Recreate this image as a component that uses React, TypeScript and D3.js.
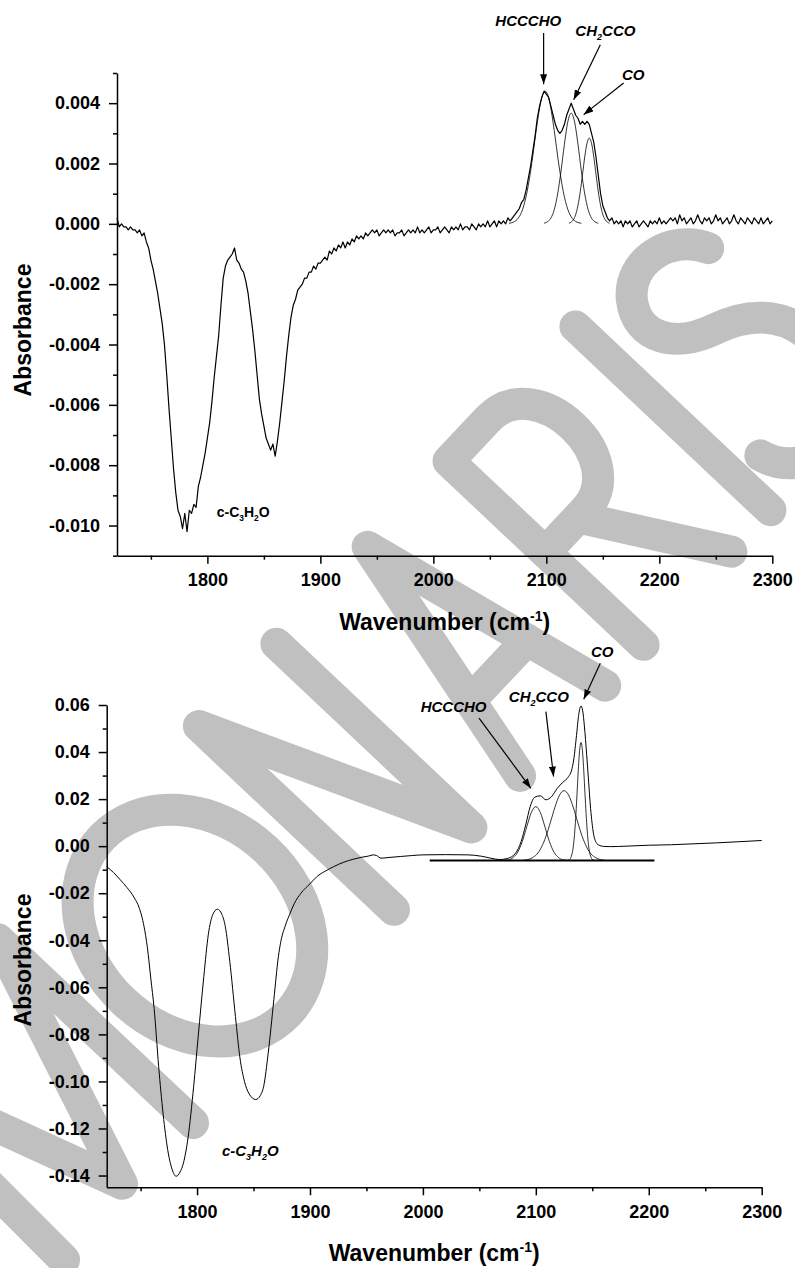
import React, { useEffect, useRef } from 'react';
import * as d3 from 'd3';

const FONT = "'Liberation Sans', Arial, Helvetica, sans-serif";

type Pt = [number, number];
type Part = { t: string; sub?: boolean };
interface Label { parts: Part[]; wn: number; abs: number; italic: boolean; size?: number; anchor?: string }

// shared wavenumber ticks (cm-1)
const xMajorTicks = [1800, 1900, 2000, 2100, 2200, 2300];
const xMinorTicks = [1750, 1850, 1950, 2050, 2150, 2250];

// ---- top panel ----
const topYTicks = [-0.010, -0.008, -0.006, -0.004, -0.002, 0.0, 0.002, 0.004];
const topYMinor = [-0.011, -0.009, -0.007, -0.005, -0.003, -0.001, 0.001, 0.003, 0.005];

// measured spectrum on a 2 cm-1 grid from 1720 to 2300
const topWnStart = 1720;
const topWnStep = 2;
const topAbs = [
  0.0002, -0.0001, 0.0000, -0.0001, -0.0001, -0.0002, -0.0001, -0.0002, -0.0002, -0.0003,
  -0.0002, -0.0004, -0.0003, -0.0006, -0.0008, -0.0012, -0.0015, -0.0019, -0.0023, -0.0028,
  -0.0033, -0.0040, -0.0050, -0.0061, -0.0071, -0.0081, -0.0089, -0.0095, -0.0097, -0.0101,
  -0.0096, -0.0102, -0.0095, -0.0096, -0.0093, -0.0094, -0.0087, -0.0084, -0.0080, -0.0076,
  -0.0071, -0.0066, -0.0059, -0.0051, -0.0044, -0.0037, -0.0027, -0.0018, -0.0014, -0.0012,
  -0.0011, -0.0010, -0.0008, -0.0012, -0.0013, -0.0015, -0.0016, -0.0019, -0.0023, -0.0029,
  -0.0035, -0.0042, -0.0050, -0.0058, -0.0063, -0.0067, -0.0071, -0.0073, -0.0075, -0.0073,
  -0.0077, -0.0072, -0.0066, -0.0059, -0.0052, -0.0044, -0.0037, -0.0031, -0.0027, -0.0025,
  -0.0022, -0.0021, -0.0020, -0.0018, -0.0018, -0.0016, -0.0016, -0.0014, -0.0015, -0.0013,
  -0.0013, -0.0012, -0.0011, -0.0012, -0.0009, -0.0010, -0.0008, -0.0009, -0.0007, -0.0008,
  -0.0006, -0.0008, -0.0006, -0.0007, -0.0005, -0.0006, -0.0004, -0.0005, -0.0004, -0.0005,
  -0.0003, -0.0004, -0.0003, -0.0002, -0.0003, -0.0002, -0.0004, -0.0003, -0.0002, -0.0003,
  -0.0002, -0.0003, -0.0002, -0.0004, -0.0003, -0.0003, -0.0002, -0.0004, -0.0003, -0.0002,
  -0.0003, -0.0002, -0.0003, -0.0001, -0.0003, -0.0002, -0.0003, -0.0002, -0.0001, -0.0003,
  -0.0002, -0.0002, -0.0001, -0.0003, -0.0002, -0.0001, -0.0002, -0.0003, -0.0001, -0.0002,
  -0.0001, -0.0002, 0.0000, -0.0002, -0.0001, -0.0001, -0.0002, 0.0000, -0.0001, -0.0002,
  0.0000, -0.0001, 0.0000, -0.0001, 0.0001, -0.0001, 0.0000, 0.0001, -0.0001, 0.0001,
  0.0000, 0.0001, 0.0000, 0.0002, 0.0001, 0.0002, 0.0003, 0.0004, 0.0005, 0.0007,
  0.0008, 0.0011, 0.0015, 0.0019, 0.0024, 0.0029, 0.0035, 0.0039, 0.0042, 0.0044,
  0.0043, 0.0042, 0.0039, 0.0036, 0.0033, 0.0031, 0.0030, 0.0031, 0.0033, 0.0036,
  0.0038, 0.0040, 0.0038, 0.0036, 0.0035, 0.0033, 0.0034, 0.0033, 0.0034, 0.0033,
  0.0030, 0.0027, 0.0022, 0.0016, 0.0010, 0.0006, 0.0004, 0.0002, 0.0001, 0.0002,
  0.0000, 0.0001, 0.0000, 0.0001, -0.0001, 0.0001, 0.0000, 0.0001, -0.0001, 0.0000,
  0.0001, -0.0001, 0.0000, 0.0001, 0.0000, -0.0001, 0.0001, 0.0000, 0.0001, 0.0000,
  0.0002, 0.0000, 0.0001, 0.0000, 0.0001, 0.0002, 0.0001, 0.0002, 0.0000, 0.0003,
  0.0001, 0.0002, 0.0000, 0.0001, 0.0002, 0.0000, 0.0001, 0.0003, 0.0001, 0.0000,
  0.0002, 0.0001, 0.0002, 0.0000, 0.0001, 0.0003, 0.0001, 0.0002, 0.0000, 0.0001,
  0.0002, 0.0000, 0.0001, 0.0003, 0.0001, 0.0000, 0.0002, 0.0001, 0.0000, 0.0002,
  0.0001, 0.0000, 0.0002, 0.0001, 0.0000, 0.0002, 0.0000, 0.0001, 0.0002, 0.0000,
  0.0001,
];

// fitted components (top)
const topFitHCCCHO: Pt[] = [
  [2067, 0.00002], [2071, 0.00006], [2075, 0.00018], [2079, 0.00048], [2083, 0.00107],
  [2087, 0.00198], [2091, 0.00309], [2095, 0.00403], [2099, 0.0044], [2103, 0.00403],
  [2107, 0.00309], [2111, 0.00198], [2115, 0.00107], [2119, 0.00048], [2123, 0.00018],
  [2127, 0.00006], [2131, 0.00002],
];
const topFitCH2CCO: Pt[] = [
  [2098, 0.00002], [2101, 0.00007], [2104, 0.00019], [2107, 0.00047], [2110, 0.00099],
  [2113, 0.00175], [2116, 0.00264], [2119, 0.00338], [2122, 0.00367], [2125, 0.00338],
  [2128, 0.00264], [2131, 0.00175], [2134, 0.00099], [2137, 0.00047], [2140, 0.00019],
  [2143, 0.00007], [2146, 0.00002],
];
const topFitCO: Pt[] = [
  [2120, 0.00002], [2122, 0.00006], [2124, 0.00014], [2126, 0.00031], [2128, 0.00061],
  [2130, 0.00106], [2132, 0.00163], [2134, 0.00222], [2136, 0.00267], [2138, 0.00284],
  [2140, 0.00267], [2142, 0.00222], [2144, 0.00163], [2146, 0.00106], [2148, 0.00061],
  [2150, 0.00031], [2152, 0.00014], [2154, 0.00006], [2156, 0.00002],
];

const topLabels: Label[] = [
  { parts: [{ t: 'HCCCHO' }], wn: 2084, abs: 0.00657, italic: true, anchor: 'middle' },
  { parts: [{ t: 'CH' }, { t: '2', sub: true }, { t: 'CCO' }], wn: 2125.7, abs: 0.00621, italic: true },
  { parts: [{ t: 'CO' }], wn: 2167, abs: 0.00478, italic: true },
  { parts: [{ t: 'c-C' }, { t: '3', sub: true }, { t: 'H' }, { t: '2', sub: true }, { t: 'O' }], wn: 1808.3, abs: -0.00972, italic: false, size: 14 },
];
const topArrows: [Pt, Pt][] = [
  [[2097.6, 0.00633], [2097.6, 0.00463]],
  [[2147.8, 0.00594], [2124.2, 0.00411]],
  [[2168.4, 0.00467], [2133.0, 0.00362]],
];

// ---- bottom panel ----
const bottomYTicks = [-0.14, -0.12, -0.10, -0.08, -0.06, -0.04, -0.02, 0.0, 0.02, 0.04, 0.06];
const bottomYMinor = [-0.13, -0.11, -0.09, -0.07, -0.05, -0.03, -0.01, 0.01, 0.03, 0.05];

const bottomSpectrum: Pt[] = [
  [1720, -0.0087], [1726, -0.0112], [1732, -0.0143], [1738, -0.0176], [1744, -0.0216],
  [1749, -0.0265], [1753, -0.034], [1756, -0.043], [1759, -0.056], [1762, -0.069],
  [1766, -0.0936], [1770, -0.114], [1774, -0.129], [1778, -0.1375], [1781.5, -0.1403],
  [1785, -0.1385], [1788, -0.1346], [1792, -0.124], [1797, -0.1021], [1801, -0.081],
  [1806, -0.0554], [1810, -0.0375], [1814, -0.029], [1818, -0.0268], [1822, -0.029],
  [1825, -0.0341], [1829, -0.049], [1834, -0.0724], [1838, -0.09], [1842, -0.1],
  [1846, -0.1052], [1852, -0.1077], [1856, -0.106], [1859, -0.1021], [1863, -0.088],
  [1868, -0.0653], [1872, -0.047], [1874, -0.041], [1878, -0.034], [1882, -0.029],
  [1886, -0.0245], [1892, -0.02], [1900, -0.016], [1906, -0.013], [1914, -0.0105],
  [1921, -0.0087], [1930, -0.0068], [1938, -0.0056], [1946, -0.0047], [1952, -0.0042],
  [1956, -0.0037], [1959, -0.004], [1963, -0.0051], [1970, -0.0048], [1980, -0.0044],
  [1990, -0.004], [2000, -0.0037], [2020, -0.0036], [2040, -0.0037], [2052, -0.0043],
  [2060, -0.0051], [2068, -0.0057], [2075, -0.0052], [2082, -0.003], [2087, 0.002],
  [2091, 0.009], [2095, 0.0168], [2099, 0.0208], [2104, 0.0214], [2109, 0.0197],
  [2114, 0.0211], [2119, 0.0246], [2124, 0.0272], [2129, 0.0296], [2131.5, 0.032],
  [2133.5, 0.0366], [2136, 0.047], [2138, 0.056], [2140, 0.0596], [2141.5, 0.0575],
  [2143, 0.051], [2145, 0.039], [2146.5, 0.029], [2148.5, 0.016], [2151, 0.0055],
  [2153.5, 0.0015], [2156, 0.0004], [2160, -0.0001], [2166, -0.0002], [2180, 0.0],
  [2200, 0.0004], [2220, 0.0006], [2240, 0.001], [2260, 0.0014], [2280, 0.0019],
  [2300, 0.0024],
];

// fit baseline and fitted components (bottom)
const bottomFitBaseline: Pt[] = [[2006, -0.0061], [2205, -0.0061]];
const bottomFitHCCCHO: Pt[] = [
  [2072, -0.006], [2076, -0.0058], [2080, -0.0048], [2084, -0.0025], [2088, 0.002],
  [2092, 0.0083], [2096, 0.0143], [2100, 0.0168], [2104, 0.0143], [2108, 0.0083],
  [2112, 0.002], [2116, -0.0025], [2120, -0.0048], [2124, -0.0058], [2128, -0.006],
];
const bottomFitCH2CCO: Pt[] = [
  [2089, -0.006], [2093, -0.0057], [2097, -0.0049], [2101, -0.0034], [2105, -0.0004],
  [2109, 0.0042], [2113, 0.0103], [2117, 0.0167], [2121, 0.0217], [2125, 0.0236],
  [2129, 0.0217], [2133, 0.0167], [2137, 0.0103], [2141, 0.0042], [2145, -0.0004],
  [2149, -0.0034], [2153, -0.0049], [2157, -0.0057], [2161, -0.006],
];
const bottomFitCO: Pt[] = [
  [2128, -0.006], [2129, -0.0059], [2130, -0.0056], [2131, -0.0049], [2132, -0.0034],
  [2133, -0.0008], [2134, 0.0035], [2135, 0.0099], [2136, 0.018], [2137, 0.0271],
  [2138, 0.0357], [2139, 0.0418], [2140, 0.0441], [2141, 0.0418], [2142, 0.0357],
  [2143, 0.0271], [2144, 0.018], [2145, 0.0099], [2146, 0.0035], [2147, -0.0008],
  [2148, -0.0034], [2149, -0.0049], [2150, -0.0056], [2151, -0.0059], [2152, -0.006],
];

const bottomLabels: Label[] = [
  { parts: [{ t: 'CO' }], wn: 2148.8, abs: 0.0804, italic: true },
  { parts: [{ t: 'CH' }, { t: '2', sub: true }, { t: 'CCO' }], wn: 2076.1, abs: 0.0613, italic: true },
  { parts: [{ t: 'HCCCHO' }], wn: 1998, abs: 0.0572, italic: true },
  { parts: [{ t: 'c-C' }, { t: '3', sub: true }, { t: 'H' }, { t: '2', sub: true }, { t: 'O' }], wn: 1822, abs: -0.1319, italic: true },
];
const bottomArrows: [Pt, Pt][] = [
  [[2157.1, 0.0777], [2142.4, 0.0624]],
  [[2108.9, 0.0572], [2115.7, 0.0296]],
  [[2049.7, 0.0544], [2095.6, 0.0246]],
];

// watermark strokes in a local frame (x along the baseline, y up = negative)
const watermarkPaths = [
  'M -188 0 L -180 -268 L -93 -10 L 0 -268 L 0 0',
  'M 293 0 L 293 -268 L 406 0 L 406 -268',
  'M 477 0 L 539 -268 L 601 0 M 497 -88 L 581 -88',
  'M 657 0 L 657 -268 L 715 -268 C 785 -268 785 -135 715 -135 L 657 -135 M 705 -135 L 785 0',
  'M 842 0 L 842 -268',
  'M 990 -225 C 975 -262 925 -275 900 -245 C 875 -215 895 -180 935 -165 C 975 -150 1000 -120 995 -75 C 990 -20 945 -5 920 -5 C 895 -5 880 -25 875 -45',
];

interface Panel {
  xRange: Pt;
  yRange: Pt;
  yDomain: Pt;
  yTicks: number[];
  yMinor: number[];
  decimals: number;
  spectrum: Pt[];
  spectrumWidth: number;
  smooth: boolean;
  fits: Pt[][];
  baselines: Pt[][];
  labels: Label[];
  arrows: [Pt, Pt][];
  yTitle: Pt;
  xTitleY: number;
}

const topPanel: Panel = {
  xRange: [117, 772.3],
  yRange: [555.7, 73],
  yDomain: [-0.011, 0.005],
  yTicks: topYTicks,
  yMinor: topYMinor,
  decimals: 3,
  spectrum: topAbs.map((a, i) => [topWnStart + i * topWnStep, a] as Pt),
  spectrumWidth: 1.2,
  smooth: false,
  fits: [topFitHCCCHO, topFitCH2CCO, topFitCO],
  baselines: [],
  labels: topLabels,
  arrows: topArrows,
  yTitle: [31, 330],
  xTitleY: 630,
};

const bottomPanel: Panel = {
  xRange: [106.7, 761.7],
  yRange: [1187.3, 705],
  yDomain: [-0.145, 0.06],
  yTicks: bottomYTicks,
  yMinor: bottomYMinor,
  decimals: 2,
  spectrum: bottomSpectrum,
  spectrumWidth: 1,
  smooth: true,
  fits: [bottomFitHCCCHO, bottomFitCH2CCO, bottomFitCO],
  baselines: [bottomFitBaseline],
  labels: bottomLabels,
  arrows: bottomArrows,
  yTitle: [31, 960],
  xTitleY: 1261,
};

function styleAxis(sel: any) {
  sel.attr('font-family', FONT).attr('font-size', 18).attr('font-weight', 'bold');
  sel.selectAll('path, line').attr('stroke', '#000').attr('stroke-width', 1.5);
  sel.selectAll('text').attr('fill', '#000');
}

function drawPanel(svg: any, p: Panel) {
  const x = d3.scaleLinear().domain([1720, 2300]).range(p.xRange);
  const y = d3.scaleLinear().domain(p.yDomain).range(p.yRange);
  const g = svg.append('g');

  const fmt = (v: number) => (Math.abs(v) < 1e-9 ? 0 : v).toFixed(p.decimals);

  // axes
  const xAxis = d3.axisBottom(x).tickValues(xMajorTicks).tickSize(8).tickPadding(10)
    .tickSizeOuter(0).tickFormat((d: any) => String(d));
  g.append('g').attr('transform', `translate(0,${p.yRange[0]})`).call(xAxis).call(styleAxis);

  const xMinor = d3.axisBottom(x).tickValues(xMinorTicks).tickSize(4).tickSizeOuter(0).tickFormat(() => '');
  g.append('g').attr('transform', `translate(0,${p.yRange[0]})`).call(xMinor).call(styleAxis)
    .select('.domain').remove();

  const yAxis = d3.axisLeft(y).tickValues(p.yTicks).tickSize(8).tickPadding(9)
    .tickSizeOuter(0).tickFormat((d: any) => fmt(d));
  g.append('g').attr('transform', `translate(${p.xRange[0]},0)`).call(yAxis).call(styleAxis);

  const yMinor = d3.axisLeft(y).tickValues(p.yMinor).tickSize(4).tickSizeOuter(0).tickFormat(() => '');
  g.append('g').attr('transform', `translate(${p.xRange[0]},0)`).call(yMinor).call(styleAxis)
    .select('.domain').remove();

  // curves
  const line = d3.line<Pt>().x(d => x(d[0])).y(d => y(d[1]));
  const smoothLine = d3.line<Pt>().x(d => x(d[0])).y(d => y(d[1])).curve(d3.curveMonotoneX);

  p.baselines.forEach(b => {
    g.append('path').attr('d', line(b)).attr('fill', 'none').attr('stroke', '#000').attr('stroke-width', 2);
  });
  p.fits.forEach(f => {
    g.append('path').attr('d', smoothLine(f)).attr('fill', 'none')
      .attr('stroke', '#000').attr('stroke-width', 0.8);
  });
  g.append('path')
    .attr('d', (p.smooth ? smoothLine : line)(p.spectrum))
    .attr('fill', 'none')
    .attr('stroke', '#000')
    .attr('stroke-width', p.spectrumWidth)
    .attr('stroke-linejoin', 'round');

  // annotations
  p.arrows.forEach(([a, b]) => {
    g.append('line')
      .attr('x1', x(a[0])).attr('y1', y(a[1]))
      .attr('x2', x(b[0])).attr('y2', y(b[1]))
      .attr('stroke', '#000').attr('stroke-width', 1.2)
      .attr('marker-end', 'url(#arrowhead)');
  });

  p.labels.forEach(l => {
    const size = l.size || 15;
    const t = g.append('text')
      .attr('x', x(l.wn)).attr('y', y(l.abs))
      .attr('font-family', FONT).attr('font-weight', 'bold')
      .attr('font-style', l.italic ? 'italic' : 'normal')
      .attr('font-size', size)
      .attr('text-anchor', l.anchor || 'start');
    let shifted = false;
    l.parts.forEach(part => {
      const ts = t.append('tspan').text(part.t);
      if (part.sub) {
        ts.attr('font-size', size * 0.6).attr('dy', 4);
        shifted = true;
      } else if (shifted) {
        ts.attr('dy', -4);
        shifted = false;
      }
    });
  });

  // axis titles
  const xt = svg.append('text')
    .attr('x', (p.xRange[0] + p.xRange[1]) / 2).attr('y', p.xTitleY)
    .attr('text-anchor', 'middle')
    .attr('font-family', FONT).attr('font-weight', 'bold').attr('font-size', 23);
  xt.append('tspan').text('Wavenumber (cm');
  xt.append('tspan').text('-1').attr('font-size', 14).attr('dy', -9);
  xt.append('tspan').text(')').attr('dy', 9);

  svg.append('text')
    .attr('transform', `translate(${p.yTitle[0]},${p.yTitle[1]}) rotate(-90)`)
    .attr('text-anchor', 'middle')
    .attr('font-family', FONT).attr('font-weight', 'bold').attr('font-size', 23)
    .text('Absorbance');
}

function drawWatermark(svg: any) {
  const wm = svg.append('g')
    .attr('transform', 'translate(193,1123) rotate(-46.7)')
    .attr('fill', 'none')
    .attr('stroke', '#c0c0c0')
    .attr('stroke-width', 32)
    .attr('stroke-linecap', 'round')
    .attr('stroke-linejoin', 'round');
  wm.append('ellipse').attr('cx', 145).attr('cy', -134).attr('rx', 104).attr('ry', 128);
  watermarkPaths.forEach(d => wm.append('path').attr('d', d));
}

export default function App() {
  const svgRef = useRef<SVGSVGElement>(null);

  useEffect(() => {
    if (!svgRef.current) return;
    const svg = d3.select(svgRef.current);
    svg.selectAll('*').remove();

    svg.append('defs').append('marker')
      .attr('id', 'arrowhead')
      .attr('markerUnits', 'userSpaceOnUse')
      .attr('markerWidth', 10).attr('markerHeight', 7)
      .attr('refX', 10).attr('refY', 3.5)
      .attr('orient', 'auto')
      .append('path').attr('d', 'M0,0 L10,3.5 L0,7 Z').attr('fill', '#000');

    drawWatermark(svg);
    drawPanel(svg, topPanel);
    drawPanel(svg, bottomPanel);
  }, []);

  return (
    <>
      <style>{'body{margin:0;background:#fff}'}</style>
      <svg ref={svgRef} width={795} height={1268} style={{ display: 'block', background: '#fff' }} />
    </>
  );
}
